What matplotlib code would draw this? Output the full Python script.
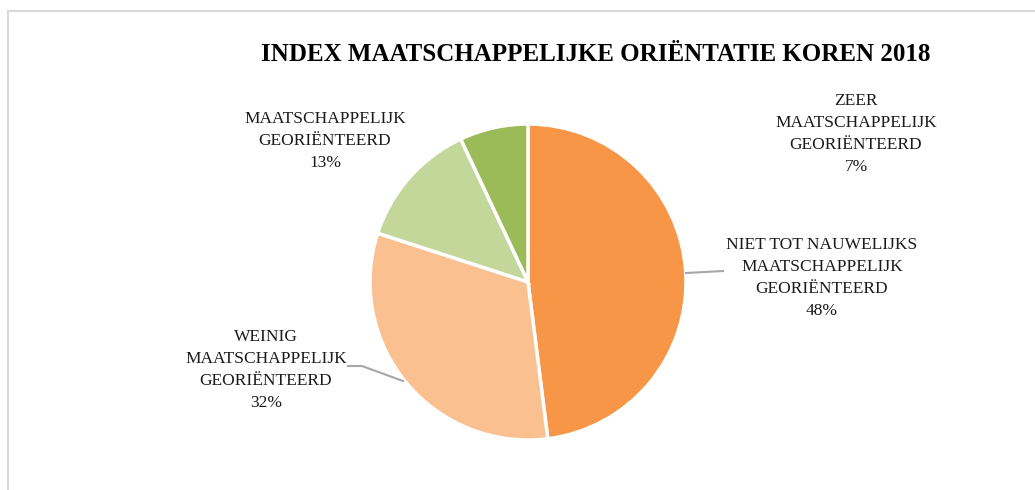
import matplotlib
matplotlib.use("Agg")
import matplotlib.pyplot as plt
from matplotlib.patches import Rectangle

# -------------------------
# Data
# -------------------------
labels = [
    "NIET TOT NAUWELIJKS\nMAATSCHAPPELIJK\nGEORIËNTEERD",
    "WEINIG\nMAATSCHAPPELIJK\nGEORIËNTEERD",
    "MAATSCHAPPELIJK\nGEORIËNTEERD",
    "ZEER\nMAATSCHAPPELIJK\nGEORIËNTEERD",
]
values = [48, 32, 13, 7]
colors = ["#F79646", "#FAC090", "#C4D79B", "#9BBB59"]
title = "INDEX MAATSCHAPPELIJKE ORIËNTATIE KOREN 2018"

# -------------------------
# Layout (pixel coordinates, y measured from top)
# -------------------------
W, H = 1035, 490
center = (528, 282)
radius = 158
label_pos = [(822, 278), (266, 370), (325, 141), (856, 134)]
leaders = [
    [(686, 273), (723, 271)],
    [(403, 381), (362, 366), (348, 366)],
    None,
    None,
]

serif = ["Liberation Serif", "DejaVu Serif"]

fig = plt.figure(figsize=(W / 100, H / 100), dpi=100)
ax = fig.add_axes([0, 0, 1, 1])

# chart frame (cropped at right / bottom)
ax.add_patch(Rectangle((8, -20), W + 20, H - 11 + 20, fill=False,
                       edgecolor="#D9D9D9", linewidth=1.5))

ax.pie(values, colors=colors, startangle=90, counterclock=False,
       center=(center[0], H - center[1]), radius=radius,
       wedgeprops=dict(edgecolor="white", linewidth=2.5), frame=True)
ax.set_xlim(0, W)
ax.set_ylim(0, H)
ax.set_aspect("equal")
ax.axis("off")

for lab, v, (x, y), ld in zip(labels, values, label_pos, leaders):
    ax.text(x, H - y, f"{lab}\n{v}%", ha="center", va="center",
            family=serif, fontsize=12.5, color="#1a1a1a", linespacing=1.48)
    if ld:
        xs = [p[0] for p in ld]
        ys = [H - p[1] for p in ld]
        ax.plot(xs, ys, color="#A6A6A6", linewidth=1.5)

ax.text(596, H - 55, title, ha="center", va="center", family=serif,
        fontsize=18, fontweight="bold", color="#000000")

fig.savefig("out.png", dpi=100)
